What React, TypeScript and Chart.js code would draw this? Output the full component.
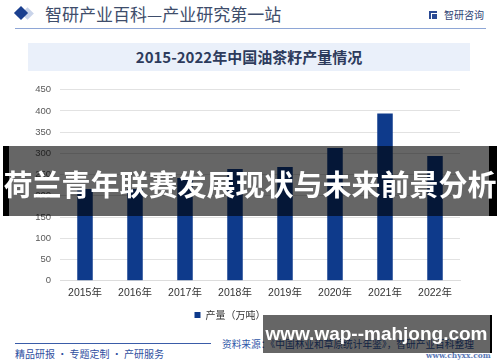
import React, { useEffect, useRef } from "react";
import { Chart, registerables } from "chart.js";

Chart.register(...registerables);

const categories = ["2015年", "2016年", "2017年", "2018年", "2019年", "2020年", "2021年", "2022年"];
const production = [216, 216, 242, 263, 268, 313, 394, 294];
const seriesLabel = "产量（万吨）";
const yMax = 450;
const yStep = 50;

const CJK = '"Noto Sans CJK SC", "Liberation Sans", sans-serif';

function BarChart() {
  const ref = useRef<HTMLCanvasElement | null>(null);
  useEffect(() => {
    if (!ref.current) return;
    const chart = new Chart(ref.current, {
      type: "bar",
      data: {
        labels: categories,
        datasets: [
          {
            label: seriesLabel,
            data: production,
            backgroundColor: "#0e3a8b",
            barPercentage: 0.62,
            categoryPercentage: 0.5,
          },
        ],
      },
      options: {
        animation: false,
        responsive: false,
        maintainAspectRatio: false,
        layout: { padding: { left: 0, right: 40, top: 0, bottom: 0 } },
        plugins: {
          tooltip: { enabled: false },
          legend: {
            position: "bottom",
            labels: {
              boxWidth: 6,
              boxHeight: 6,
              padding: 4.6,
              color: "#333",
              font: { family: CJK, size: 10 },
            },
          },
        },
        scales: {
          x: {
            grid: { display: false, drawTicks: false },
            border: { display: true, color: "#dcdcdc" },
            ticks: { color: "#333", padding: 6, font: { family: '"Liberation Sans", "Noto Sans CJK SC", sans-serif', size: 10.5 } },
          },
          y: {
            min: 0,
            max: yMax,
            ticks: { stepSize: yStep, color: "#595959", padding: 9, font: { family: '"Liberation Sans", sans-serif', size: 9.5 } },
            grid: { color: "#e2e2e2", drawTicks: false },
            border: { display: false },
            afterFit: (scale: any) => {
              scale.width = 60;
            },
          },
        },
      },
    });
    return () => chart.destroy();
  }, []);
  return (
    <canvas
      ref={ref}
      width={500}
      height={255}
      style={{ position: "absolute", left: 0, top: 75, width: 500, height: 255 }}
    />
  );
}

export default function App() {
  return (
    <div
      style={{
        position: "absolute",
        left: 0,
        top: 0,
        width: 500,
        height: 362,
        background: "#fff",
        overflow: "hidden",
        fontFamily: CJK,
      }}
    >
      {/* header */}
      <div style={{ position: "absolute", left: 23, top: 9, width: 9, height: 9, background: "#c9d4ea", transform: "rotate(45deg)" }} />
      <div style={{ position: "absolute", left: 16, top: 8, width: 10, height: 10, background: "#1a3f8f", transform: "rotate(45deg)" }} />
      <div style={{ position: "absolute", left: 45, top: 1, fontSize: 17, color: "#3e4d6b", whiteSpace: "nowrap", lineHeight: "26px" }}>
        智研产业百科—产业研究第一站
      </div>
      <div style={{ position: "absolute", left: 429, top: 11, width: 8, height: 8, border: "2px solid #2b4a94", borderRight: "none", borderBottom: "none", boxSizing: "border-box" }} />
      <div style={{ position: "absolute", left: 432, top: 14, width: 5, height: 5, background: "#2b4a94" }} />
      <div style={{ position: "absolute", left: 444, top: 7, fontSize: 10, color: "#2c3f73", whiteSpace: "nowrap", lineHeight: "16px" }}>
        智研咨询
      </div>
      <div style={{ position: "absolute", left: 15, top: 28, width: 471, height: 1, background: "#8ea6d6" }} />

      {/* title box */}
      <div
        style={{
          position: "absolute",
          left: 28,
          top: 43,
          width: 442,
          height: 28,
          background: "#eaf0fa",
          textAlign: "center",
          lineHeight: "28px",
          fontSize: 15,
          fontWeight: 700,
          color: "#2d3b5c",
          whiteSpace: "nowrap",
        }}
      >
        2015-2022年中国油茶籽产量情况
      </div>

      <BarChart />

      {/* footer */}
      <div style={{ position: "absolute", left: 15, top: 343, width: 196, height: 1, background: "#3a5ca8" }} />
      <div style={{ position: "absolute", left: 15, top: 347, fontSize: 10, color: "#2f4f9f", whiteSpace: "nowrap", lineHeight: "14px" }}>
        精品研报 · 专题定制 · 产研服务
      </div>
      <div style={{ position: "absolute", left: 222, top: 337, fontSize: 9.7, color: "#2f57a8", whiteSpace: "nowrap", lineHeight: "14px" }}>
        资料来源：《中国林业和草原统计年鉴》，智研产业百科整理
      </div>
      <div style={{ position: "absolute", left: 426, top: 351, fontSize: 7.5, fontWeight: 700, color: "#5a78b5", whiteSpace: "nowrap", lineHeight: "10px", fontFamily: '"DejaVu Serif", serif' }}>
        www.chyxx.com
      </div>

      {/* overlay banner 1 */}
      <div
        style={{
          position: "absolute",
          left: 3,
          top: 146,
          width: 494,
          height: 70,
          boxSizing: "border-box",
          background: "rgba(0,0,0,0.6)",
          borderLeft: "6px solid #000",
          borderRight: "8px solid #000",
        }}
      />
      <div
        style={{
          position: "absolute",
          left: 0,
          top: 164,
          width: 500,
          textAlign: "center",
          fontSize: 29,
          fontWeight: 700,
          color: "#fff",
          whiteSpace: "nowrap",
          lineHeight: "38px",
        }}
      >
        荷兰青年联赛发展现状与未来前景分析
      </div>

      {/* overlay banner 2 */}
      <div
        style={{
          position: "absolute",
          left: 263,
          top: 315,
          width: 229,
          height: 38,
          boxSizing: "border-box",
          background: "rgba(0,0,0,0.6)",
          borderRight: "2px solid #000",
        }}
      />
      <div
        style={{
          position: "absolute",
          left: 263,
          top: 315,
          width: 227,
          height: 38,
          textAlign: "center",
          lineHeight: "38px",
          fontSize: 19,
          fontWeight: 700,
          color: "#fff",
          whiteSpace: "nowrap",
          fontFamily: '"Liberation Sans", Arial, sans-serif',
        }}
      >
        www.wap--mahjong.com
      </div>
    </div>
  );
}
